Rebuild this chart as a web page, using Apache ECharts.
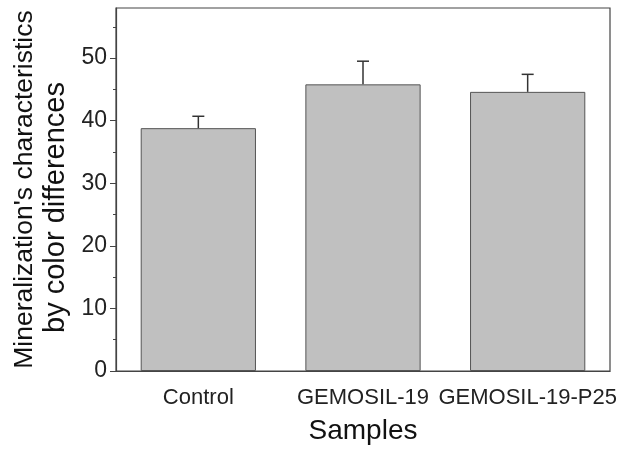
<!DOCTYPE html>
<html>
<head>
<meta charset="utf-8">
<script src="https://cdn.jsdelivr.net/npm/echarts@6/dist/echarts.min.js"></script>
<style>
html,body{margin:0;padding:0;background:#fff;}
#chart{width:624px;height:457px;}
</style>
</head>
<body>
<div id="chart"></div>
<script>
const categories = ['Control', 'GEMOSIL-19', 'GEMOSIL-19-P25']
const values = [38.8, 45.8, 44.6]
const errors = [1.9, 3.7, 2.8]
const majorTicks = [0, 10, 20, 30, 40, 50]
const minorTicks = [5, 15, 25, 35, 45, 55]

const chartObj = echarts.init(document.getElementById('chart'))
const font = 'Liberation Sans, Arial, sans-serif'

let option = {
	animation: false,
	grid: {
		left: 116,
		right: 14,
		top: 8,
		bottom: 86,
		show: true,
		borderColor: '#444',
		borderWidth: 1.2
	},
	xAxis: {
		type: 'category',
		data: categories,
		name: 'Samples',
		nameLocation: 'middle',
		nameGap: 46,
		nameTextStyle: { fontFamily: font, fontSize: 28, color: '#111' },
		axisLine: { lineStyle: { color: '#444', width: 1.2 } },
		axisTick: { alignWithLabel: true, length: 7, lineStyle: { color: '#444' } },
		axisLabel: { fontFamily: font, fontSize: 22, color: '#222', margin: 16, interval: 0, hideOverlap: false }
	},
	yAxis: [
		{
			type: 'value',
			min: 0,
			max: 58,
			interval: 10,
			name: '{a|Mineralization\'s characteristics}\n{b|by color differences}',
			nameLocation: 'middle',
			nameGap: 44,
			nameTextStyle: {
				fontFamily: font,
				color: '#111',
				rich: {
					a: { fontFamily: font, fontSize: 26.5, lineHeight: 31, color: '#111' },
					b: { fontFamily: font, fontSize: 29, lineHeight: 31, color: '#111', padding: [0, 36, 0, 0] }
				}
			},
			axisLine: { show: true, lineStyle: { color: '#444', width: 1.2 } },
			axisTick: { show: true, length: 6, customValues: majorTicks, lineStyle: { color: '#444' } },
			axisLabel: { fontFamily: font, fontSize: 23, color: '#222', margin: 9, customValues: majorTicks },
			splitLine: { show: false }
		},
		{
			type: 'value',
			min: 0,
			max: 58,
			position: 'left',
			axisLine: { show: false },
			axisTick: { show: true, length: 3, customValues: minorTicks, lineStyle: { color: '#444' } },
			axisLabel: { show: false },
			splitLine: { show: false }
		}
	],
	series: [
		{
			type: 'bar',
			data: values,
			barWidth: '70%',
			itemStyle: { color: '#c0c0c0', borderColor: '#555', borderWidth: 1 },
			z: 2
		},
		{
			type: 'custom',
			data: values.map((v, i) => [i, v, v + errors[i]]),
			z: 3,
			renderItem: function (params, api) {
				const base = api.coord([api.value(0), api.value(1)])
				const top = api.coord([api.value(0), api.value(2)])
				const half = 6
				const style = { stroke: '#333', lineWidth: 1.5 }
				return {
					type: 'group',
					children: [
						{ type: 'line', shape: { x1: base[0], y1: base[1], x2: top[0], y2: top[1] }, style: style },
						{ type: 'line', shape: { x1: top[0] - half, y1: top[1], x2: top[0] + half, y2: top[1] }, style: style }
					]
				}
			}
		}
	]
}
option && chartObj.setOption(option)
</script>
</body>
</html>
